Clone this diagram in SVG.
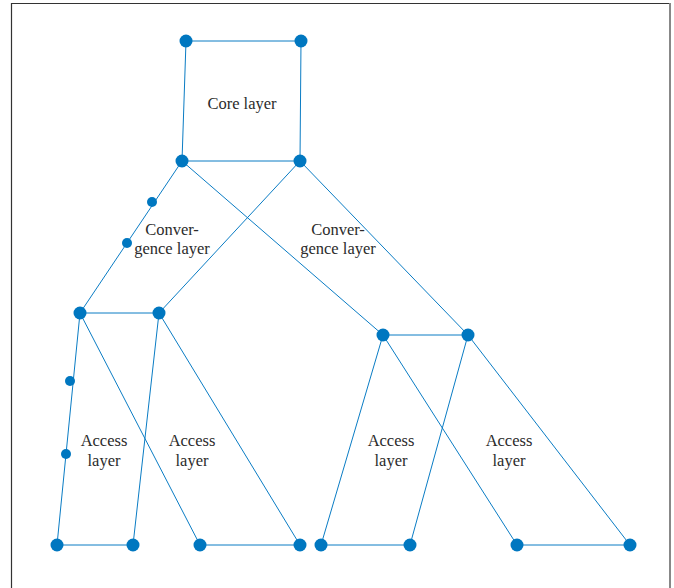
<svg xmlns="http://www.w3.org/2000/svg" width="674" height="588" viewBox="0 0 674 588">
<style>
.e{stroke:#0a7cc4;stroke-width:1;fill:none}
.n{fill:#0077c0}
.t{font-family:"Liberation Serif","DejaVu Serif",serif;font-size:16.5px;fill:#2b2b2b;text-anchor:middle}
</style>
<rect x="0" y="0" width="674" height="588" fill="#fff"/>
<path d="M11.5 588V3.5H670" stroke="#333" stroke-width="1.2" fill="none"/>
<path d="M670 3V588" stroke="#888" stroke-width="2" fill="none"/>
<g id="connectors">
<line class="e" x1="186" y1="41" x2="301" y2="41"/>
<line class="e" x1="186" y1="41" x2="182" y2="161"/>
<line class="e" x1="301" y1="41" x2="300" y2="161"/>
<line class="e" x1="182" y1="161" x2="300" y2="161"/>
<line class="e" x1="182" y1="161" x2="80" y2="313"/>
<line class="e" x1="300" y1="161" x2="159" y2="313"/>
<line class="e" x1="182" y1="161" x2="383" y2="335"/>
<line class="e" x1="300" y1="161" x2="468" y2="335"/>
<line class="e" x1="80" y1="313" x2="159" y2="313"/>
<line class="e" x1="383" y1="335" x2="468" y2="335"/>
<line class="e" x1="80" y1="313" x2="57" y2="545"/>
<line class="e" x1="80" y1="313" x2="200" y2="545"/>
<line class="e" x1="159" y1="313" x2="133" y2="545"/>
<line class="e" x1="159" y1="313" x2="300" y2="545"/>
<line class="e" x1="57" y1="545" x2="133" y2="545"/>
<line class="e" x1="200" y1="545" x2="300" y2="545"/>
<line class="e" x1="383" y1="335" x2="321" y2="545"/>
<line class="e" x1="383" y1="335" x2="517" y2="545"/>
<line class="e" x1="468" y1="335" x2="410" y2="545"/>
<line class="e" x1="468" y1="335" x2="630" y2="545"/>
<line class="e" x1="321" y1="545" x2="410" y2="545"/>
<line class="e" x1="517" y1="545" x2="630" y2="545"/>
</g>
<g id="core1"><circle class="n" cx="186" cy="41" r="6.5"/></g>
<g id="core2"><circle class="n" cx="301" cy="41" r="6.5"/></g>
<g id="core3"><circle class="n" cx="182" cy="161" r="6.5"/></g>
<g id="core4"><circle class="n" cx="300" cy="161" r="6.5"/></g>
<g id="conv-s1"><circle class="n" cx="152" cy="202" r="5"/></g>
<g id="conv-s2"><circle class="n" cx="127" cy="243" r="5"/></g>
<g id="conv1"><circle class="n" cx="80" cy="313" r="6.5"/></g>
<g id="conv2"><circle class="n" cx="159" cy="313" r="6.5"/></g>
<g id="conv3"><circle class="n" cx="383" cy="335" r="6.5"/></g>
<g id="conv4"><circle class="n" cx="468" cy="335" r="6.5"/></g>
<g id="acc-s1"><circle class="n" cx="70" cy="381" r="5"/></g>
<g id="acc-s2"><circle class="n" cx="66" cy="454" r="5"/></g>
<g id="a1"><circle class="n" cx="57" cy="545" r="6.5"/></g>
<g id="a2"><circle class="n" cx="133" cy="545" r="6.5"/></g>
<g id="a3"><circle class="n" cx="200" cy="545" r="6.5"/></g>
<g id="a4"><circle class="n" cx="300" cy="545" r="6.5"/></g>
<g id="a5"><circle class="n" cx="321" cy="545" r="6.5"/></g>
<g id="a6"><circle class="n" cx="410" cy="545" r="6.5"/></g>
<g id="a7"><circle class="n" cx="517" cy="545" r="6.5"/></g>
<g id="a8"><circle class="n" cx="630" cy="545" r="6.5"/></g>
<g id="labels">
<text class="t" x="242" y="109">Core layer</text>
<text class="t" x="172" y="235">Conver-</text>
<text class="t" x="172" y="254">gence layer</text>
<text class="t" x="338" y="235">Conver-</text>
<text class="t" x="338" y="254">gence layer</text>
<text class="t" x="104" y="446">Access</text>
<text class="t" x="104" y="466">layer</text>
<text class="t" x="192" y="446">Access</text>
<text class="t" x="192" y="466">layer</text>
<text class="t" x="391" y="446">Access</text>
<text class="t" x="391" y="466">layer</text>
<text class="t" x="509" y="446">Access</text>
<text class="t" x="509" y="466">layer</text>
</g>
</svg>
